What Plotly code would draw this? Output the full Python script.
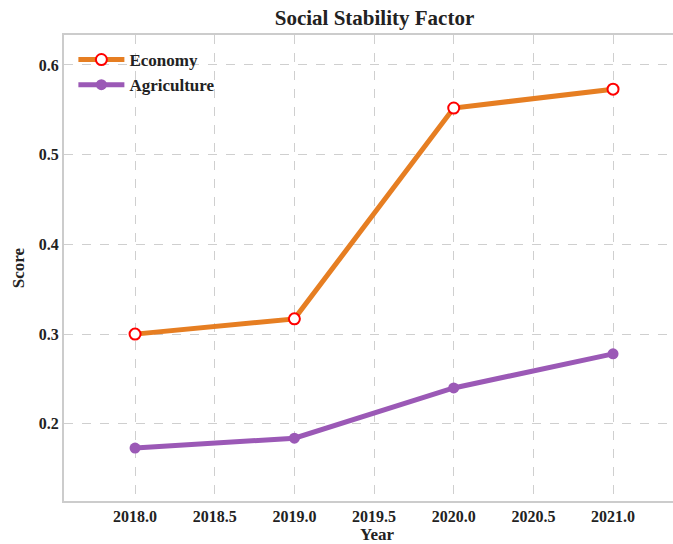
import plotly.graph_objects as go

years = [2018, 2019, 2020, 2021]
economy = [0.300, 0.317, 0.552, 0.573]
agriculture = [0.173, 0.184, 0.240, 0.278]
title_text = "Social Stability Factor"
x_title = "Year"
y_title = "Score"

FONT = "Liberation Serif"
INK = "#222222"
fig = go.Figure()
fig.add_trace(go.Scatter(
    x=years, y=economy, name="Economy", mode="lines+markers",
    line=dict(color="#e67e22", width=5),
    marker=dict(size=11, color="white", line=dict(color="#ff0000", width=2)),
))
fig.add_trace(go.Scatter(
    x=years, y=agriculture, name="Agriculture", mode="lines+markers",
    line=dict(color="#9b59b6", width=5),
    marker=dict(size=11, color="#9b59b6"),
))

grid = dict(showgrid=True, gridcolor="#cfcfcf", griddash="dash", gridwidth=1,
            zeroline=False, showline=True, linecolor="#cccccc", linewidth=2,
            ticks="", tickfont=dict(family=FONT, size=16, color=INK, weight="bold"))

W = 690
fig.update_layout(
    width=W, height=544,
    margin=dict(l=64, r=0, t=35, b=43, autoexpand=False),
    paper_bgcolor="white", plot_bgcolor="white",
    title=dict(text=title_text, x=374.5 / W, xanchor="center",
               y=0.967, yanchor="middle",
               font=dict(family=FONT, size=21, color=INK, weight="bold")),
    font=dict(family=FONT, color=INK),
    showlegend=True,
    legend=dict(x=0.015, y=0.985, xanchor="left", yanchor="top",
                bgcolor="rgba(255,255,255,0)", borderwidth=0,
                font=dict(family=FONT, size=17, color=INK, weight="bold"),
                itemwidth=46, tracegroupgap=2),
)
fig.update_xaxes(**grid, range=[2017.554, 2021.483], tickvals=[2018, 2018.5, 2019, 2019.5, 2020, 2020.5, 2021],
                 tickformat=".1f", mirror=True,
                 title=dict(text=x_title, font=dict(family=FONT, size=17, color=INK, weight="bold"), standoff=6))
fig.update_yaxes(**grid, range=[0.114, 0.6334], tickvals=[0.2, 0.3, 0.4, 0.5, 0.6], tickformat=".1f",
                 title=dict(text=y_title, font=dict(family=FONT, size=17, color=INK, weight="bold"), standoff=10))

fig.write_html("out.html", config={"displayModeBar": False},
               post_script="document.body.style.margin='0';document.body.style.overflow='hidden';")
